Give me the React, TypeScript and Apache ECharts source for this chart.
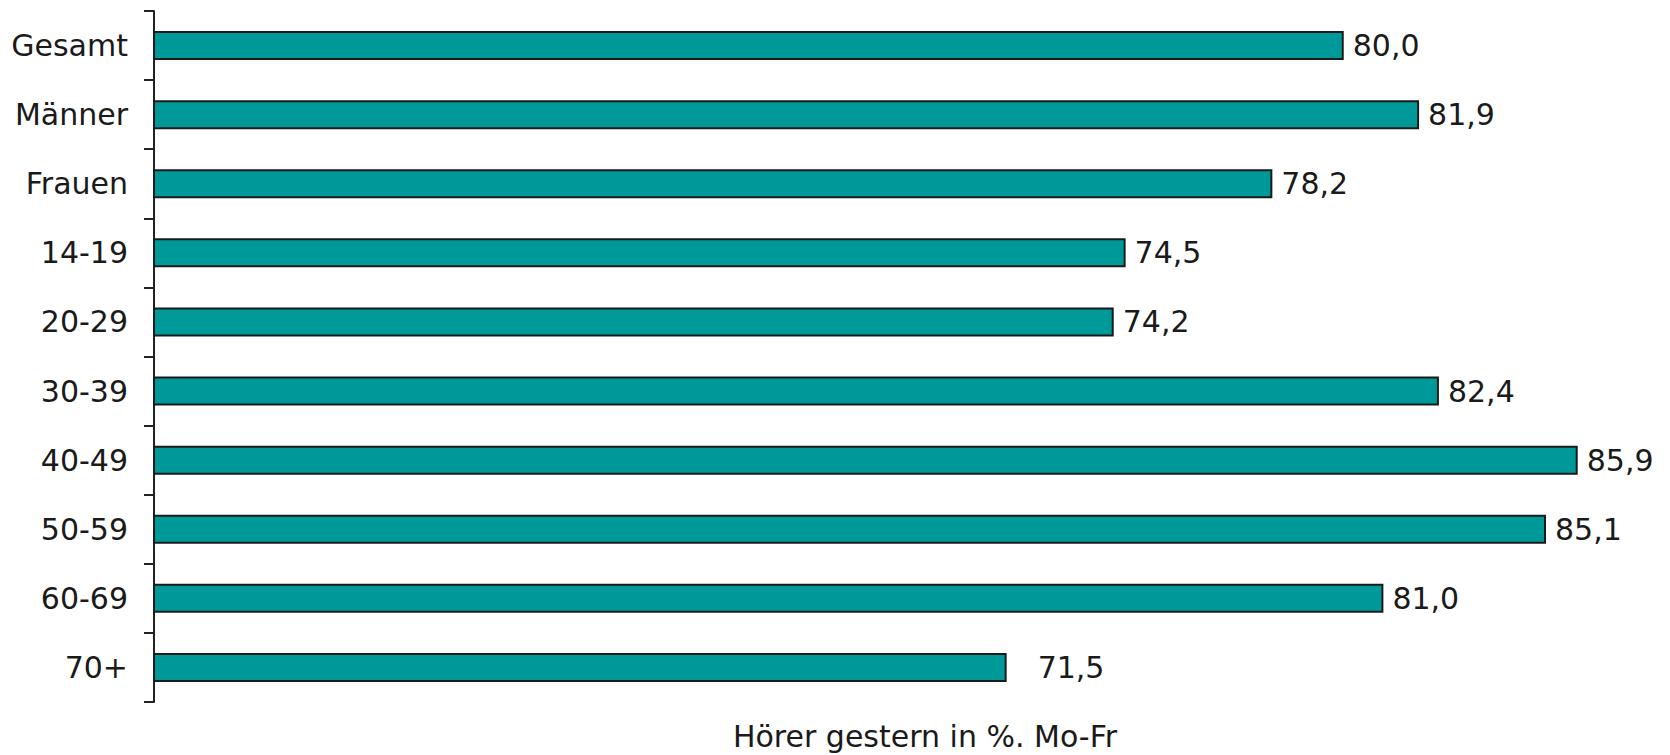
import React, { useEffect, useRef } from "react";
import * as echarts from "echarts";

const categories = ["Gesamt", "Männer", "Frauen", "14-19", "20-29", "30-39", "40-49", "50-59", "60-69", "70+"];
const values = [80.0, 81.9, 78.2, 74.5, 74.2, 82.4, 85.9, 85.1, 81.0, 71.5];
const labelDistances = [9, 9, 9, 9, 9, 9, 9, 9, 9, 31];
const axisTitle = "Hörer gestern in %. Mo-Fr";

const fmt = (v: number) => v.toFixed(1).replace(".", ",");

export default function App() {
  const ref = useRef<HTMLDivElement>(null);
  useEffect(() => {
    if (!ref.current) return;
    const chart = echarts.init(ref.current, undefined, { renderer: "svg" });
    const font = "'DejaVu Sans', Verdana, sans-serif";
    chart.setOption({
      animation: false,
      backgroundColor: "#ffffff",
      grid: { left: 154, right: 9, top: 11, bottom: 53, containLabel: false },
      xAxis: {
        type: "value",
        min: 50,
        max: 88,
        show: false,
      },
      yAxis: {
        type: "category",
        data: categories,
        inverse: true,
        boundaryGap: true,
        axisLine: { show: true, lineStyle: { color: "#222", width: 2 } },
        axisTick: { show: true, length: 10, lineStyle: { color: "#222", width: 2 } },
        axisLabel: { margin: 26, fontSize: 30, color: "#1a1a1a", fontFamily: font },
        splitLine: { show: false },
      },
      series: [
        {
          type: "bar",
          barWidth: 29,
          data: values.map((v, i) => ({
            value: v,
            label: { distance: labelDistances[i] },
          })),
          itemStyle: { color: "#009999", borderColor: "#1a1a1a", borderWidth: 2 },
          label: {
            show: true,
            position: "right",
            fontSize: 30,
            color: "#1a1a1a",
            fontFamily: font,
            formatter: (p: any) => fmt(p.value),
          },
        },
      ],
      graphic: [
        {
          type: "text",
          x: 925,
          y: 736,
          style: {
            text: axisTitle,
            fontSize: 30,
            fill: "#1a1a1a",
            fontFamily: font,
            align: "center",
            verticalAlign: "middle",
          },
        },
      ],
    });
    return () => chart.dispose();
  }, []);
  return <div ref={ref} style={{ position: "fixed", left: 0, top: 0, width: 1670, height: 755 }} />;
}
